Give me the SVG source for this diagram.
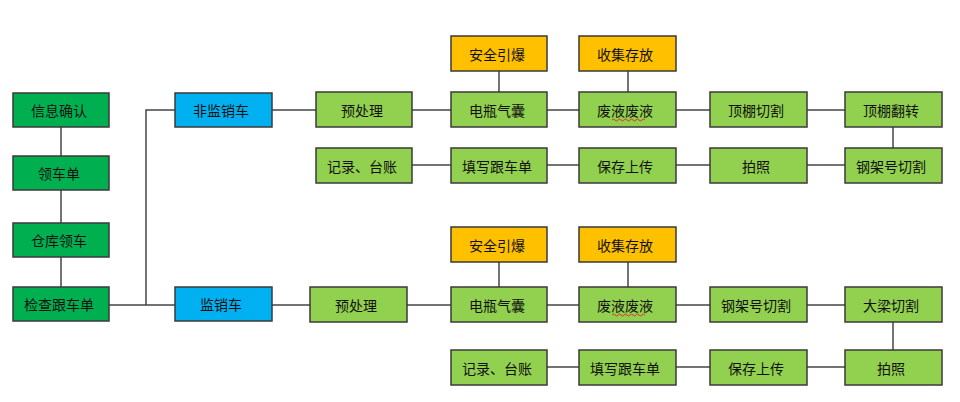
<svg xmlns="http://www.w3.org/2000/svg" width="960" height="402" viewBox="0 0 960 402">
<style>
.n rect{stroke:#3a3a3a;stroke-width:1.5}
.dg rect{fill:#00B050}
.lg rect{fill:#92D050}
.bl rect{fill:#00B0F0}
.or rect{fill:#FFC000}
.n text{font-family:"Noto Sans CJK SC","Liberation Sans",sans-serif;font-size:14px;fill:#111;text-anchor:middle;dominant-baseline:central}
.c line,.c polyline{stroke:#444;stroke-width:1.5;fill:none}
</style>
<rect width="960" height="402" fill="#fff"/>
<g class="c" id="connectors">
<line x1="61" y1="127" x2="61" y2="156"/>
<line x1="61" y1="190" x2="61" y2="223"/>
<line x1="61" y1="257" x2="61" y2="287"/>
<line x1="109" y1="305" x2="175" y2="305"/>
<polyline points="175,110 146,110 146,305"/>
<line x1="272" y1="110" x2="316" y2="110"/>
<line x1="412" y1="110" x2="451" y2="110"/>
<line x1="547" y1="110" x2="579" y2="110"/>
<line x1="676" y1="110" x2="710" y2="110"/>
<line x1="807" y1="110" x2="845" y2="110"/>
<line x1="499" y1="71" x2="499" y2="92"/>
<line x1="628" y1="71" x2="628" y2="92"/>
<line x1="893" y1="127" x2="893" y2="148"/>
<line x1="412" y1="165" x2="451" y2="165"/>
<line x1="547" y1="165" x2="579" y2="165"/>
<line x1="676" y1="165" x2="710" y2="165"/>
<line x1="807" y1="165" x2="845" y2="165"/>
<line x1="272" y1="305" x2="310" y2="305"/>
<line x1="407" y1="305" x2="451" y2="305"/>
<line x1="547" y1="305" x2="579" y2="305"/>
<line x1="676" y1="305" x2="710" y2="305"/>
<line x1="807" y1="305" x2="845" y2="305"/>
<line x1="499" y1="262" x2="499" y2="287"/>
<line x1="628" y1="262" x2="628" y2="287"/>
<line x1="893" y1="322" x2="893" y2="350"/>
<line x1="547" y1="367" x2="579" y2="367"/>
<line x1="676" y1="367" x2="710" y2="367"/>
<line x1="807" y1="367" x2="845" y2="367"/>
</g>
<g id="n1" class="n dg"><rect x="13" y="93" width="96" height="34"/><text x="59" y="110">信息确认</text></g>
<g id="n2" class="n dg"><rect x="13" y="156" width="96" height="34"/><text x="59" y="173">领车单</text></g>
<g id="n3" class="n dg"><rect x="13" y="223" width="96" height="34"/><text x="59" y="240">仓库领车</text></g>
<g id="n4" class="n dg"><rect x="13" y="287" width="96" height="34"/><text x="59" y="304">检查跟车单</text></g>
<g id="n5" class="n bl"><rect x="175" y="93" width="97" height="34"/><text x="221" y="110">非监销车</text></g>
<g id="n6" class="n bl"><rect x="175" y="287" width="97" height="34"/><text x="221" y="304">监销车</text></g>
<g id="t1" class="n lg"><rect x="316" y="92" width="96" height="35"/><text x="362" y="110">预处理</text></g>
<g id="t2" class="n lg"><rect x="451" y="92" width="96" height="35"/><text x="497" y="110">电瓶气囊</text></g>
<g id="t3" class="n lg"><rect x="579" y="92" width="97" height="35"/><text x="625" y="110">废液废液</text><path d="M612,120 q1.5,-2 3,0 t3,0 t3,0 t3,0 t3,0 t3,0 t3,0 t3,0 t3,0 t3,0 t3,0" stroke="#e03030" stroke-width="1" fill="none"/></g>
<g id="t4" class="n lg"><rect x="710" y="92" width="97" height="35"/><text x="756" y="110">顶棚切割</text></g>
<g id="t5" class="n lg"><rect x="845" y="92" width="97" height="35"/><text x="891" y="110">顶棚翻转</text></g>
<g id="t6" class="n or"><rect x="451" y="36" width="96" height="35"/><text x="497" y="54">安全引爆</text></g>
<g id="t7" class="n or"><rect x="579" y="36" width="97" height="35"/><text x="625" y="54">收集存放</text></g>
<g id="t8" class="n lg"><rect x="316" y="148" width="96" height="35"/><text x="362" y="166">记录、台账</text></g>
<g id="t9" class="n lg"><rect x="451" y="148" width="96" height="35"/><text x="497" y="166">填写跟车单</text></g>
<g id="t10" class="n lg"><rect x="579" y="148" width="97" height="35"/><text x="625" y="166">保存上传</text></g>
<g id="t11" class="n lg"><rect x="710" y="148" width="97" height="35"/><text x="756" y="166">拍照</text></g>
<g id="t12" class="n lg"><rect x="845" y="148" width="97" height="35"/><text x="891" y="166">钢架号切割</text></g>
<g id="b1" class="n lg"><rect x="310" y="287" width="97" height="35"/><text x="356" y="305">预处理</text></g>
<g id="b2" class="n lg"><rect x="451" y="287" width="96" height="35"/><text x="497" y="305">电瓶气囊</text></g>
<g id="b3" class="n lg"><rect x="579" y="287" width="97" height="35"/><text x="625" y="305">废液废液</text><path d="M612,315 q1.5,-2 3,0 t3,0 t3,0 t3,0 t3,0 t3,0 t3,0 t3,0 t3,0 t3,0 t3,0" stroke="#e03030" stroke-width="1" fill="none"/></g>
<g id="b4" class="n lg"><rect x="710" y="287" width="97" height="35"/><text x="756" y="305">钢架号切割</text></g>
<g id="b5" class="n lg"><rect x="845" y="287" width="97" height="35"/><text x="891" y="305">大梁切割</text></g>
<g id="b6" class="n or"><rect x="451" y="227" width="96" height="35"/><text x="497" y="245">安全引爆</text></g>
<g id="b7" class="n or"><rect x="579" y="227" width="97" height="35"/><text x="625" y="245">收集存放</text></g>
<g id="b8" class="n lg"><rect x="451" y="350" width="96" height="35"/><text x="497" y="368">记录、台账</text></g>
<g id="b9" class="n lg"><rect x="579" y="350" width="97" height="35"/><text x="625" y="368">填写跟车单</text></g>
<g id="b10" class="n lg"><rect x="710" y="350" width="97" height="35"/><text x="756" y="368">保存上传</text></g>
<g id="b11" class="n lg"><rect x="845" y="350" width="97" height="35"/><text x="891" y="368">拍照</text></g>
</svg>
